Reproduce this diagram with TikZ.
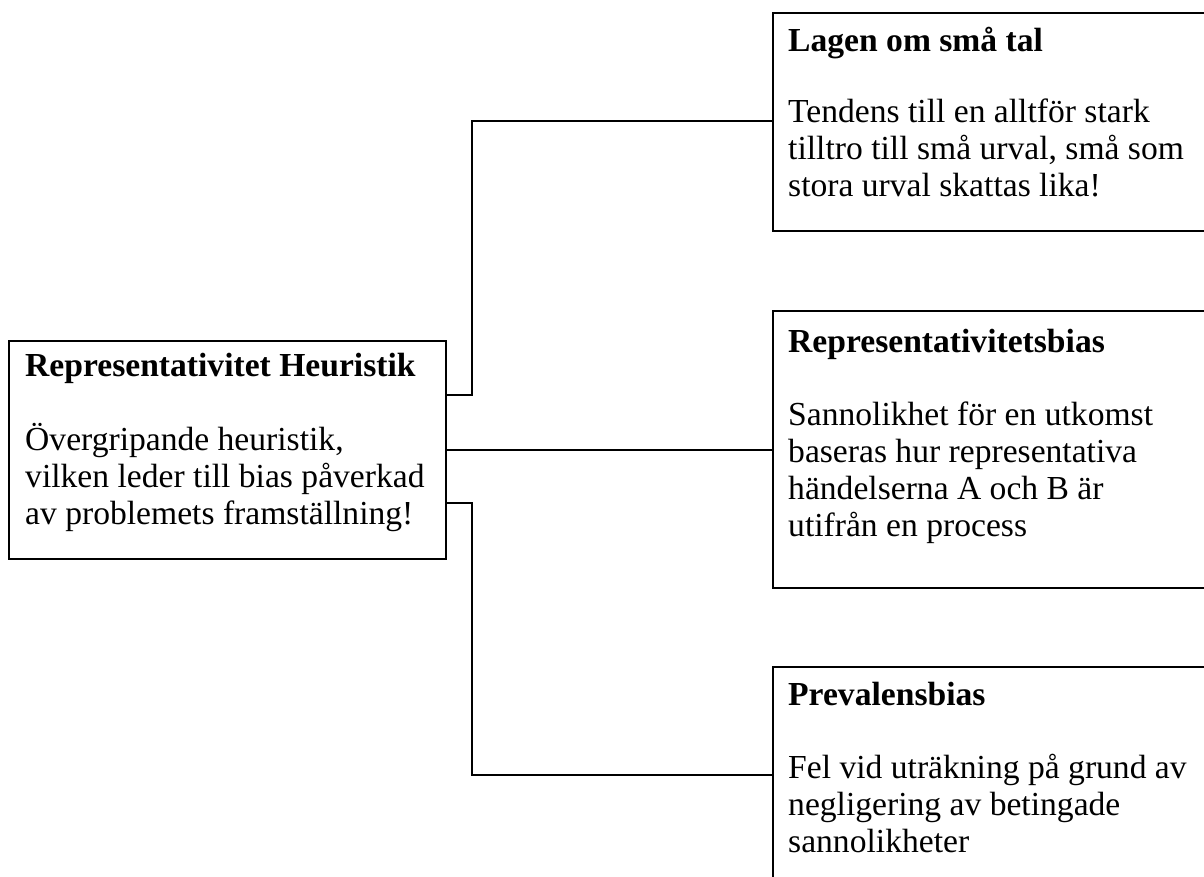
\documentclass[tikz,border=0pt]{standalone}
\usepackage{fontspec}
\setmainfont{Liberation Serif}
\begin{document}
\begin{tikzpicture}[x=1pt,y=-1pt,
  box/.style={draw=black, line width=1.6pt, rectangle, inner sep=0pt, anchor=north west, fill=white},
  txt/.style={inner sep=0pt, anchor=base west, font=\fontsize{33.6}{37}\selectfont},
  conn/.style={draw=black, line width=1.6pt}]
\useasboundingbox (0,0) rectangle (1204,877);
\fill[white] (0,0) rectangle (1204,877);
\clip (0,0) rectangle (1204,877);
% boxes
\node[box, minimum width=437pt, minimum height=218pt] (L) at (8,340) {};
\node[box, minimum width=460pt, minimum height=218pt] (T) at (772,12) {};
\node[box, minimum width=460pt, minimum height=277pt] (M) at (772,310) {};
\node[box, minimum width=460pt, minimum height=240pt] (B) at (772,666) {};
% texts
\node[txt] (Lh) at (25,376) {\bfseries Representativitet Heuristik};
\node[txt] (Lb) at (25,450) {\begin{tabular}[t]{@{}l@{}}Övergripande heuristik,\\vilken leder till bias påverkad\\av problemets framställning!\end{tabular}};
\node[txt] (Th) at (788,52) {\bfseries Lagen om små tal};
\node[txt] (Tb) at (788,123) {\begin{tabular}[t]{@{}l@{}}Tendens till en alltför stark\\tilltro till små urval, små som\\stora urval skattas lika!\end{tabular}};
\node[txt] (Mh) at (788,352) {\bfseries Representativitetsbias};
\node[txt] (Mb) at (788,425) {\begin{tabular}[t]{@{}l@{}}Sannolikhet för en utkomst\\baseras hur representativa\\händelserna A och B är\\utifrån en process\end{tabular}};
\node[txt] (Bh) at (788,705) {\bfseries Prevalensbias};
\node[txt] (Bb) at (788,778) {\begin{tabular}[t]{@{}l@{}}Fel vid uträkning på grund av\\negligering av betingade\\sannolikheter\end{tabular}};
% connectors
\coordinate (j1) at (472,121);
\coordinate (j2) at (472,775);
\draw[conn] ([yshift=55pt]L.east) -| (j1) -- (j1 -| T.west);
\draw[conn] (L.east) -- (L.east -| M.west);
\draw[conn] ([yshift=-53pt]L.east) -| (j2) -- (j2 -| B.west);
\end{tikzpicture}
\end{document}
